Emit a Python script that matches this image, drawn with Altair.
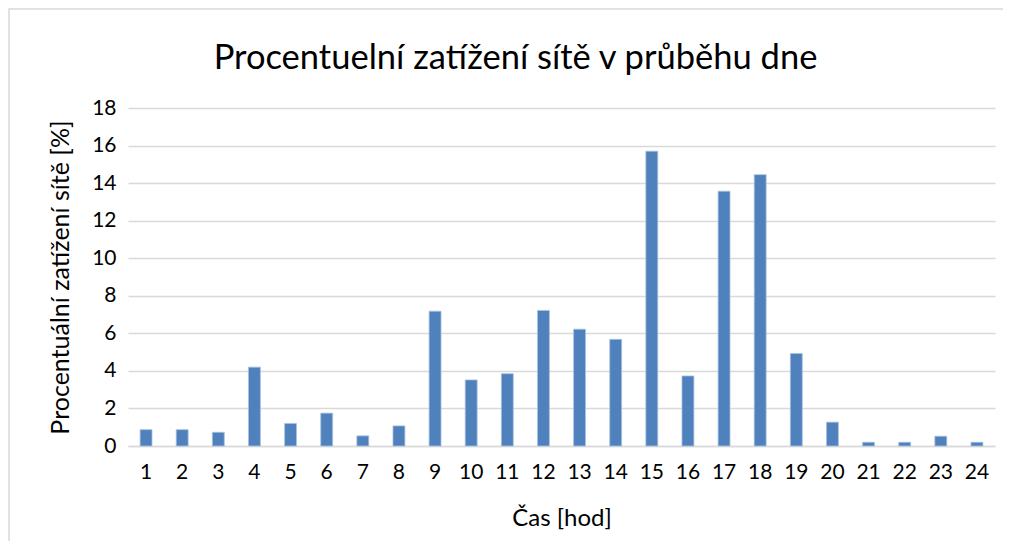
import altair as alt
import pandas as pd

hours = [str(h) for h in range(1, 25)]
values = [0.87, 0.87, 0.73, 4.2, 1.2, 1.75, 0.54, 1.07, 7.18, 3.52, 3.85, 7.22,
          6.22, 5.68, 15.7, 3.73, 13.57, 14.45, 4.93, 1.27, 0.2, 0.2, 0.52, 0.2]
y_ticks = list(range(0, 19, 2))

title = "Procentuelní zatížení sítě v průběhu dne"
x_title = "Čas [hod]"
y_title = "Procentuální zatížení sítě [%]"

df = pd.DataFrame({"hod": hours, "val": values})
FONT = "Lato"

bars = alt.Chart(df).mark_bar(color="#4f81bd", stroke="#a9c1df", strokeWidth=0.8).encode(
    x=alt.X("hod:N", sort=hours,
            scale=alt.Scale(paddingInner=0.67, paddingOuter=0.335),
            axis=alt.Axis(title=x_title, labelAngle=0, ticks=False, domain=True,
                          domainColor="#d9d9d9", domainWidth=1.5,
                          labelFont=FONT, labelFontSize=21, labelColor="#000",
                          labelPadding=15,
                          titleFont=FONT, titleFontSize=24, titleFontWeight="normal",
                          titleColor="#000", titleBaseline="alphabetic", titleY=79)),
    y=alt.Y("val:Q", scale=alt.Scale(domain=[0, 18], nice=False),
            axis=alt.Axis(title=y_title, values=y_ticks, ticks=False, domain=False,
                          grid=True, gridColor="#d9d9d9", gridWidth=1.5,
                          labelFont=FONT, labelFontSize=21, labelColor="#000",
                          labelPadding=12,
                          titleFont=FONT, titleFontSize=25, titleFontWeight="normal",
                          titleColor="#000", titleX=-68, titleY=169,
                          titleBaseline="middle", titleAlign="center")),
)

border = alt.Chart(pd.DataFrame({"a": [0]})).mark_rect(
    fill=None, stroke="#d9d9d9", strokeWidth=1.5
).encode(
    x=alt.value(-119), x2=alt.value(1200), y=alt.value(-99), y2=alt.value(800)
)

chart = alt.layer(border, bars).properties(
    width=867, height=338,
    title=alt.TitleParams(title, font=FONT, fontSize=34.5, fontWeight="normal",
                          color="#000", anchor="middle", frame="group", dx=-46,
                          offset=-68),
    padding={"left": 120, "top": 100, "right": 8, "bottom": 95},
    autosize=alt.AutoSizeParams(type="none"),
).configure_view(stroke=None)

chart.save("out.html", embed_options={"renderer": "svg", "actions": False})
